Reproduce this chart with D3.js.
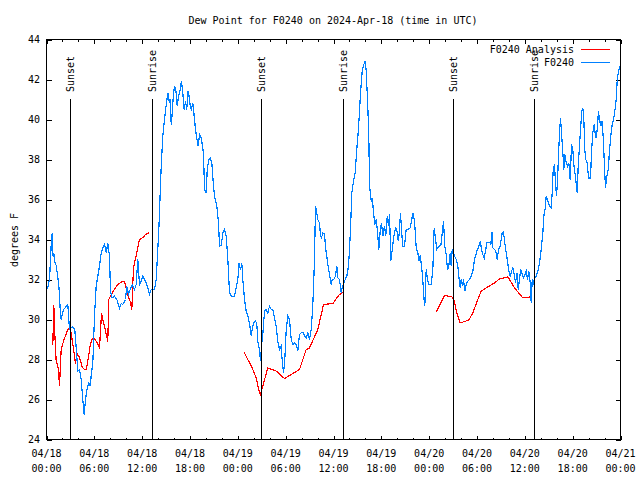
<!DOCTYPE html>
<html><head><meta charset="utf-8">
<script src="https://cdn.jsdelivr.net/npm/d3@7"></script>
<style>
html,body{margin:0;padding:0;background:#fff;}
svg{display:block;}
text{font-family:"DejaVu Sans Mono","Liberation Mono",monospace;font-size:10px;fill:#000;}
</style></head>
<body><svg id="c" width="640" height="480"></svg>
<script>
// hours since 2024-04-18 00:00 UTC, dew point (deg F)
const obsSeries = [[0,31.5],[0.16,31.6],[0.38,32.0],[0.59,33.75],[0.72,34.33],[0.79,33.17],[0.92,33.3],[1.0,32.9],[1.22,32.7],[1.42,32.08],[1.54,31.75],[1.72,30.5],[1.84,30.0],[1.97,30.25],[2.13,30.5],[2.38,30.6],[2.67,30.75],[2.80,30.0],[2.89,29.5],[3.10,29.6],[3.30,29.63],[3.55,29.5],[3.73,28.58],[3.93,27.42],[4.14,27.5],[4.35,27.0],[4.55,26.0],[4.73,25.25],[4.89,26.0],[5.11,26.58],[5.31,26.83],[5.48,26.67],[5.64,27.33],[5.81,27.83],[6.02,30.17],[6.23,31.67],[6.65,32.67],[6.86,33.33],[7.06,33.58],[7.28,33.75],[7.49,33.33],[7.69,33.83],[7.90,33.17],[8.03,31.42],[8.24,31.08],[8.53,31.17],[8.82,31.0],[9.16,30.58],[9.37,30.8],[9.57,30.75],[9.91,31.0],[10.07,31.67],[10.29,31.25],[10.50,31.5],[10.75,31.75],[10.91,31.6],[11.04,31.5],[11.25,31.75],[11.45,33.0],[11.67,31.75],[11.88,31.92],[12.08,32.17],[12.29,32.0],[12.51,31.83],[12.71,31.58],[12.92,31.25],[13.13,31.5],[13.55,31.5],[13.76,32.0],[14.09,34.5],[14.17,35.33],[14.39,37.67],[14.59,39.17],[14.80,40.0],[15.02,40.75],[15.22,41.33],[15.43,40.83],[15.56,41.0],[15.64,39.75],[15.77,40.3],[15.93,41.33],[16.09,41.67],[16.27,41.33],[16.40,40.67],[16.56,41.17],[16.77,41.5],[16.93,41.92],[17.10,41.33],[17.27,40.5],[17.44,40.92],[17.60,40.5],[17.72,41.42],[17.85,41.25],[18.03,40.67],[18.19,40.5],[18.35,40.83],[18.57,40.0],[18.69,39.5],[18.85,39.08],[19.03,38.67],[19.19,39.25],[19.41,39.08],[19.69,38.33],[19.82,36.5],[20.03,36.33],[20.16,37.5],[20.36,38.0],[20.53,38.08],[20.74,37.83],[20.95,36.67],[21.11,36.08],[21.36,35.67],[21.58,34.83],[21.70,33.67],[21.92,33.7],[22.12,34.33],[22.33,34.5],[22.54,34.17],[22.74,33.08],[22.87,32.0],[22.96,31.35],[23.17,31.17],[23.58,31.17],[23.80,31.58],[24.00,32.0],[24.15,32.8],[24.34,32.5],[24.50,32.8],[24.62,32.0],[24.84,31.0],[25.05,30.42],[25.25,30.17],[25.46,29.83],[25.68,29.17],[25.80,29.5],[25.97,29.83],[26.22,29.92],[26.38,29.8],[26.50,28.92],[26.72,28.5],[26.84,27.92],[26.97,28.67],[27.13,29.25],[27.35,30.42],[27.56,30.5],[27.76,30.33],[27.97,30.67],[28.19,30.5],[28.39,30.5],[28.60,30.08],[28.81,29.67],[29.01,28.92],[29.23,28.5],[29.44,28.67],[29.57,27.92],[29.73,27.33],[29.89,28.0],[30.07,29.5],[30.27,30.17],[30.48,30.0],[30.70,29.0],[30.90,28.75],[31.11,28.83],[31.32,28.75],[31.52,28.42],[31.74,29.25],[31.95,29.33],[32.15,29.37],[32.36,29.2],[32.57,29.08],[32.78,29.33],[32.99,29.0],[33.20,29.5],[33.40,30.67],[33.53,32.0],[33.62,33.08],[33.74,35.67],[33.91,35.3],[34.03,35.0],[34.25,34.83],[34.37,34.17],[34.50,34.08],[34.66,34.33],[34.87,34.3],[35.00,33.58],[35.16,33.17],[35.29,32.75],[35.50,32.25],[35.71,31.75],[35.84,32.0],[36.04,32.0],[36.25,32.17],[36.42,32.67],[36.54,32.08],[36.75,32.0],[36.97,31.33],[37.09,31.58],[37.29,31.83],[37.47,32.0],[37.67,32.17],[37.88,32.67],[38.01,33.5],[38.13,34.5],[38.30,36.33],[38.51,36.92],[38.72,37.33],[38.92,38.5],[39.14,39.58],[39.39,41.33],[39.60,42.42],[39.80,42.75],[39.98,42.92],[40.10,42.42],[40.30,40.67],[40.43,39.17],[40.52,36.67],[40.73,35.92],[40.89,36.0],[41.02,35.33],[41.18,34.75],[41.36,35.0],[41.52,34.42],[41.68,33.5],[41.86,34.42],[42.02,34.83],[42.19,34.17],[42.40,34.67],[42.56,34.2],[42.74,35.17],[42.90,34.67],[43.03,35.25],[43.19,32.92],[43.37,33.5],[43.57,34.17],[43.78,34.58],[43.94,34.5],[44.12,33.92],[44.28,34.42],[44.40,35.33],[44.53,34.5],[44.69,33.67],[44.91,33.67],[45.12,34.5],[45.32,34.5],[45.62,34.58],[45.79,34.92],[45.95,35.33],[46.17,34.9],[46.38,33.58],[46.58,33.33],[46.70,32.92],[46.88,33.2],[47.04,32.67],[47.20,32.0],[47.33,31.08],[47.45,30.67],[47.63,32.5],[47.79,32.0],[47.96,31.75],[48.26,31.75],[48.46,32.5],[48.63,34.58],[48.80,34.0],[48.96,33.5],[49.21,33.67],[49.46,33.7],[49.64,34.33],[49.80,34.92],[49.96,33.67],[50.14,33.25],[50.30,32.5],[50.46,32.67],[50.64,33.33],[50.76,32.67],[50.89,33.5],[50.97,33.4],[51.18,33.17],[51.39,33.0],[51.59,32.67],[51.72,32.17],[51.89,31.58],[52.02,32.0],[52.18,31.7],[52.31,32.0],[52.47,31.42],[52.65,31.75],[52.85,31.92],[53.06,32.0],[53.28,32.17],[53.48,32.42],[53.69,33.0],[53.81,33.17],[53.98,33.42],[54.23,33.67],[54.41,33.92],[54.57,33.5],[54.73,33.25],[54.91,33.08],[55.07,33.42],[55.24,33.87],[55.58,33.87],[55.74,33.75],[55.87,34.38],[55.99,33.58],[56.21,33.5],[56.37,33.4],[56.54,33.0],[56.70,33.5],[56.91,33.67],[57.16,34.33],[57.32,34.37],[57.49,33.83],[57.66,33.33],[57.83,32.92],[57.99,32.42],[58.17,32.17],[58.33,32.42],[58.50,32.58],[58.67,32.25],[58.84,31.83],[59.00,32.33],[59.17,31.5],[59.34,32.08],[59.50,32.5],[59.68,32.25],[59.84,32.08],[60.01,32.25],[60.18,32.42],[60.34,32.0],[60.50,32.42],[60.68,31.83],[60.80,30.83],[60.93,32.0],[61.09,31.83],[61.25,32.08],[61.43,32.17],[61.63,32.42],[61.84,32.83],[62.05,33.5],[62.26,34.33],[62.38,35.17],[62.56,35.58],[62.68,36.17],[62.84,36.0],[62.97,35.83],[63.09,35.67],[63.31,35.58],[63.43,36.33],[63.56,37.5],[63.72,37.75],[63.85,36.83],[63.97,36.17],[64.10,36.92],[64.22,38.17],[64.35,39.33],[64.48,40.08],[64.60,39.33],[64.77,38.33],[64.89,37.5],[65.02,38.25],[65.19,37.83],[65.36,37.67],[65.52,37.83],[65.69,37.0],[65.86,38.75],[66.02,38.5],[66.20,37.5],[66.36,37.17],[66.45,36.75],[66.57,36.33],[66.70,37.75],[66.86,38.67],[66.98,39.5],[67.15,40.42],[67.27,40.58],[67.40,40.0],[67.52,38.5],[67.65,38.0],[67.82,37.83],[67.99,37.08],[68.24,37.08],[68.37,38.42],[68.53,39.33],[68.70,39.75],[68.83,39.25],[68.95,39.08],[69.08,39.5],[69.24,40.42],[69.37,40.0],[69.53,39.67],[69.71,39.92],[69.87,38.83],[70.00,37.5],[70.12,36.58],[70.28,37.17],[70.46,37.5],[70.62,38.42],[70.78,39.17],[70.96,39.75],[71.12,40.0],[71.29,40.42],[71.46,41.0],[71.59,42.0],[71.75,42.42],[71.92,42.67]];

const analysisDay1 = [[0.79,28.7],[0.92,30.7],[1.0,29.6],[1.2,28.0],[1.5,27.5],[1.63,26.7],[1.84,28.5],[2.2,29.0],[2.67,29.5],[2.9,29.6],[3.1,29.3],[3.4,28.5],[3.64,27.8],[3.8,28.3],[4.14,28.1],[4.5,27.6],[4.8,27.5],[5.0,27.5],[5.3,28.2],[5.48,28.7],[5.73,29.05],[6.0,29.05],[6.4,28.8],[6.65,28.6],[6.9,30.3],[7.3,29.6],[7.69,28.9],[7.81,31.0],[8.2,31.3],[8.66,31.6],[9.1,31.8],[9.57,31.9],[9.8,31.9],[10.2,31.2],[10.5,30.9],[10.7,30.5],[10.91,32.6],[11.3,33.3],[11.67,34.0],[12.1,34.1],[12.42,34.25],[12.83,34.33]];
const analysisDay2 = [[24.75,28.4],[25.25,28.0],[25.8,27.58],[26.3,27.08],[26.72,26.33],[26.84,26.25],[27.13,26.67],[27.76,27.58],[28.81,27.42],[29.85,27.05],[30.48,27.2],[31.74,27.5],[32.57,28.5],[32.99,28.58],[34.03,29.5],[34.75,30.75],[35.91,30.8],[36.75,31.25],[37.38,31.4]];
const analysisDay3 = [[48.88,30.37],[49.93,31.2],[50.84,31.13],[51.09,31.0],[51.47,30.33],[51.9,29.83],[52.97,29.97],[53.47,30.33],[54.1,31.0],[54.53,31.42],[55.15,31.58],[56.2,31.83],[56.82,32.03],[57.87,32.13],[58.71,31.58],[59.75,31.08],[60.71,31.13]];

const sunEvents = [["Sunset",2.93],["Sunrise",13.22],["Sunset",26.95],["Sunrise",37.22],["Sunset",50.97],["Sunrise",61.18]];
const xTickHours = [0,6,12,18,24,30,36,42,48,54,60,66,72];
const xTickLabels = [["04/18","00:00"],["04/18","06:00"],["04/18","12:00"],["04/18","18:00"],["04/19","00:00"],["04/19","06:00"],["04/19","12:00"],["04/19","18:00"],["04/20","00:00"],["04/20","06:00"],["04/20","12:00"],["04/20","18:00"],["04/21","00:00"]];
const yTicks = [24,26,28,30,32,34,36,38,40,42,44];
const seriesNames = ["F0240 Analysis","F0240"];
const seriesColors = ["#ff0000","#0080ff"];

const svg = d3.select("#c");
const L=46.5, R=620.5, T=39.5, B=439.5;
const x = d3.scaleLinear().domain([0,72]).range([L,R]);
const y = d3.scaleLinear().domain([24,44]).range([B,T]);

// title
svg.append("text").attr("x",333).attr("y",23.5).attr("text-anchor","middle")
  .text("Dew Point for F0240 on 2024-Apr-18 (time in UTC)");

// axes (ticks inward)
const minorHours = d3.range(0,73,2).filter(h=>h%6!==0);
function axisG(ax, tx){ const g=svg.append("g").attr("transform",tx).call(ax); g.select(".domain").remove(); g.selectAll("text").remove(); g.selectAll("line").attr("stroke","#000").attr("shape-rendering","crispEdges"); return g; }
axisG(d3.axisBottom(x).tickValues(xTickHours).tickSize(-4).tickSizeOuter(0), `translate(0,${B})`);
axisG(d3.axisBottom(x).tickValues(minorHours).tickSize(-2).tickSizeOuter(0), `translate(0,${B})`);
axisG(d3.axisTop(x).tickValues(xTickHours).tickSize(-4).tickSizeOuter(0), `translate(0,${T})`);
axisG(d3.axisTop(x).tickValues(minorHours).tickSize(-2).tickSizeOuter(0), `translate(0,${T})`);
axisG(d3.axisLeft(y).tickValues(yTicks).tickSize(-5).tickSizeOuter(0), `translate(${L},0)`);
axisG(d3.axisRight(y).tickValues(yTicks).tickSize(-5).tickSizeOuter(0), `translate(${R},0)`);

// y labels
svg.append("g").selectAll("text").data(yTicks).join("text")
  .attr("x",40).attr("y",d=>y(d)+3.5).attr("text-anchor","end").text(d=>d);
// x labels
const xl = svg.append("g").selectAll("text").data(xTickHours).join("text")
  .attr("text-anchor","middle");
xl.append("tspan").attr("x",d=>x(d)).attr("y",457).text((d,i)=>xTickLabels[i][0]);
xl.append("tspan").attr("x",d=>x(d)).attr("y",472).text((d,i)=>xTickLabels[i][1]);

svg.append("text").attr("transform","translate(14,240) rotate(-90)").attr("text-anchor","middle")
  .attr("dy","0.35em").text("degrees F");

// data lines
const line = d3.line().x(d=>x(d[0])).y(d=>y(d[1]));
[analysisDay1,analysisDay2,analysisDay3].forEach(s=>{
  svg.append("path").datum(s).attr("d",line).attr("fill","none").attr("stroke",seriesColors[0])
    .attr("stroke-width",1.2).attr("shape-rendering","crispEdges");
});
svg.append("path").datum(obsSeries).attr("d",line).attr("fill","none").attr("stroke",seriesColors[1])
  .attr("stroke-width",1.2).attr("shape-rendering","crispEdges");

// sunrise/sunset markers
const sg = svg.append("g").selectAll("g").data(sunEvents).join("g");
sg.append("line").attr("x1",d=>Math.round(x(d[1]))+0.5).attr("x2",d=>Math.round(x(d[1]))+0.5)
  .attr("y1",99).attr("y2",B).attr("stroke","#000").attr("shape-rendering","crispEdges");
sg.append("text").attr("transform",d=>`translate(${Math.round(x(d[1]))+0.5},92) rotate(-90)`)
  .attr("dy","0.35em").attr("text-anchor","start").text(d=>d[0]);

// frame
svg.append("rect").attr("x",L).attr("y",T).attr("width",R-L).attr("height",B-T)
  .attr("fill","none").attr("stroke","#000").attr("shape-rendering","crispEdges");

// legend
seriesNames.forEach((n,i)=>{
  const ly = 49.5 + i*13;
  svg.append("text").attr("x",574).attr("y",ly+3.5).attr("text-anchor","end").text(n);
  svg.append("line").attr("x1",581).attr("x2",610).attr("y1",ly).attr("y2",ly)
    .attr("stroke",seriesColors[i]).attr("shape-rendering","crispEdges");
});
</script></body></html>
